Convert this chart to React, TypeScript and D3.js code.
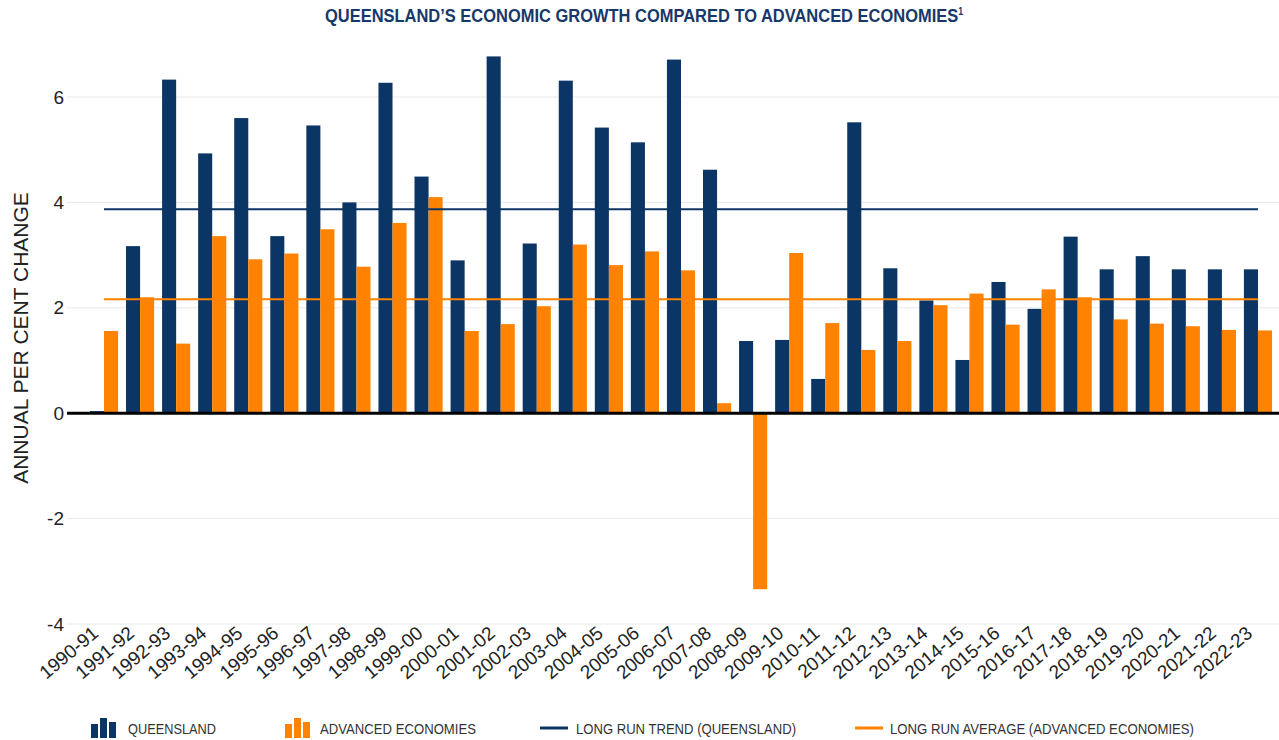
import React from "react";
import { scaleBand, scaleLinear } from "d3";

const years = [
  "1990-91", "1991-92", "1992-93", "1993-94", "1994-95", "1995-96", "1996-97",
  "1997-98", "1998-99", "1999-00", "2000-01", "2001-02", "2002-03", "2003-04",
  "2004-05", "2005-06", "2006-07", "2007-08", "2008-09", "2009-10", "2010-11",
  "2011-12", "2012-13", "2013-14", "2014-15", "2015-16", "2016-17", "2017-18",
  "2018-19", "2019-20", "2020-21", "2021-22", "2022-23",
];

const queensland = [
  0.04, 3.17, 6.33, 4.93, 5.6, 3.36, 5.46, 4.0, 6.27, 4.49, 2.9, 6.77, 3.22,
  6.31, 5.42, 5.14, 6.71, 4.62, 1.37, 1.39, 0.65, 5.52, 2.75, 2.14, 1.01, 2.49,
  1.98, 3.35, 2.73, 2.98, 2.73, 2.73, 2.73,
];

const advanced = [
  1.56, 2.2, 1.32, 3.36, 2.92, 3.03, 3.49, 2.78, 3.61, 4.1, 1.56, 1.69, 2.03,
  3.2, 2.81, 3.07, 2.71, 0.19, -3.34, 3.04, 1.71, 1.2, 1.37, 2.05, 2.27, 1.68,
  2.35, 2.2, 1.78, 1.7, 1.65, 1.58, 1.57,
];

const qldTrend = 3.87;
const advAverage = 2.16;

const yTicks = [-4, -2, 0, 2, 4, 6];

const NAVY = "#0b3565";
const ORANGE = "#ff8200";
const narrow = "'Liberation Sans Narrow', 'Arial Narrow', 'Liberation Sans', Arial, sans-serif";
const sans = "'Liberation Sans', Arial, sans-serif";

export default function App() {
  const width = 1279;
  const height = 740;
  const gridLeft = 67;
  const gridRight = 1279;

  const x = scaleBand<string>()
    .domain(years)
    .range([86, 1276])
    .paddingInner(0.22)
    .paddingOuter(0.11);

  const x1 = scaleBand<string>()
    .domain(["qld", "adv"])
    .range([0, x.bandwidth()]);

  const y = scaleLinear().domain([-4, 6]).range([624, 97]);

  const lineX0 = (x(years[0]) ?? 0) + x.bandwidth() / 2;
  const lineX1 = (x(years[years.length - 1]) ?? 0) + x.bandwidth() / 2;

  const bar = (v: number) => ({
    y: Math.min(y(v), y(0)),
    h: Math.abs(y(v) - y(0)),
  });

  return (
    <svg
      width={width}
      height={height}
      style={{ position: "absolute", left: 0, top: 0, background: "#fff" }}
    >
      {/* title */}
      <text
        x={325}
        y={22}
        fontFamily={narrow}
        fontWeight="bold"
        fontSize={19}
        fill="#17386a"
        textLength={638}
        lengthAdjust="spacingAndGlyphs"
      >
        QUEENSLAND’S ECONOMIC GROWTH COMPARED TO ADVANCED ECONOMIES
        <tspan fontSize={10} dy={-7}>1</tspan>
      </text>

      {/* gridlines */}
      {yTicks.filter((t) => t !== 0).map((t) => (
        <line key={t} x1={gridLeft} x2={gridRight} y1={y(t)} y2={y(t)} stroke="#e9e9e9" strokeWidth={1} />
      ))}

      {/* y tick labels */}
      {yTicks.map((t) => (
        <text
          key={t}
          x={64}
          y={y(t)}
          dy="0.35em"
          textAnchor="end"
          fontFamily={sans}
          fontSize={19}
          fill="#222"
        >
          {t}
        </text>
      ))}

      {/* y axis title */}
      <text
        transform={`translate(28, 338) rotate(-90)`}
        textAnchor="middle"
        fontFamily={sans}
        fontSize={21}
        fill="#222"
      >
        ANNUAL PER CENT CHANGE
      </text>

      {/* bars */}
      {years.map((yr, i) => {
        const q = bar(queensland[i]);
        const a = bar(advanced[i]);
        const bx = x(yr) ?? 0;
        return (
          <g key={yr}>
            <rect x={bx + (x1("qld") ?? 0)} y={q.y} width={x1.bandwidth()} height={q.h} fill={NAVY} />
            <rect x={bx + (x1("adv") ?? 0)} y={a.y} width={x1.bandwidth()} height={a.h} fill={ORANGE} />
          </g>
        );
      })}

      {/* long run lines */}
      <line x1={lineX0} x2={lineX1} y1={y(qldTrend)} y2={y(qldTrend)} stroke={NAVY} strokeWidth={2.2} />
      <line x1={lineX0} x2={lineX1} y1={y(advAverage)} y2={y(advAverage)} stroke={ORANGE} strokeWidth={2} />

      {/* zero line */}
      <line x1={gridLeft} x2={gridRight} y1={y(0)} y2={y(0)} stroke="#000" strokeWidth={3} />

      {/* x labels */}
      {years.map((yr) => (
        <text
          key={yr}
          transform={`translate(${(x(yr) ?? 0) + x.bandwidth() / 2 - 13}, 625) rotate(-40)`}
          textAnchor="end"
          dy="0.7em"
          fontFamily={sans}
          fontSize={19}
          fill="#222"
        >
          {yr}
        </text>
      ))}

      {/* legend */}
      <g>
        <rect x={91} y={724} width={7} height={14} fill={NAVY} />
        <rect x={100} y={718} width={7} height={20} fill={NAVY} />
        <rect x={109} y={722} width={7} height={16} fill={NAVY} />
        <text x={128} y={734} fontFamily={narrow} fontSize={14} fill="#333" textLength={88} lengthAdjust="spacingAndGlyphs">
          QUEENSLAND
        </text>

        <rect x={285} y={724} width={7} height={14} fill={ORANGE} />
        <rect x={294} y={718} width={7} height={20} fill={ORANGE} />
        <rect x={303} y={722} width={7} height={16} fill={ORANGE} />
        <text x={320} y={734} fontFamily={narrow} fontSize={14} fill="#333" textLength={156} lengthAdjust="spacingAndGlyphs">
          ADVANCED ECONOMIES
        </text>

        <line x1={540} x2={568} y1={728} y2={728} stroke={NAVY} strokeWidth={3} />
        <text x={576} y={734} fontFamily={narrow} fontSize={14} fill="#333" textLength={220} lengthAdjust="spacingAndGlyphs">
          LONG RUN TREND (QUEENSLAND)
        </text>

        <line x1={855} x2={883} y1={728} y2={728} stroke={ORANGE} strokeWidth={3} />
        <text x={890} y={734} fontFamily={narrow} fontSize={14} fill="#333" textLength={304} lengthAdjust="spacingAndGlyphs">
          LONG RUN AVERAGE (ADVANCED ECONOMIES)
        </text>
      </g>
    </svg>
  );
}
